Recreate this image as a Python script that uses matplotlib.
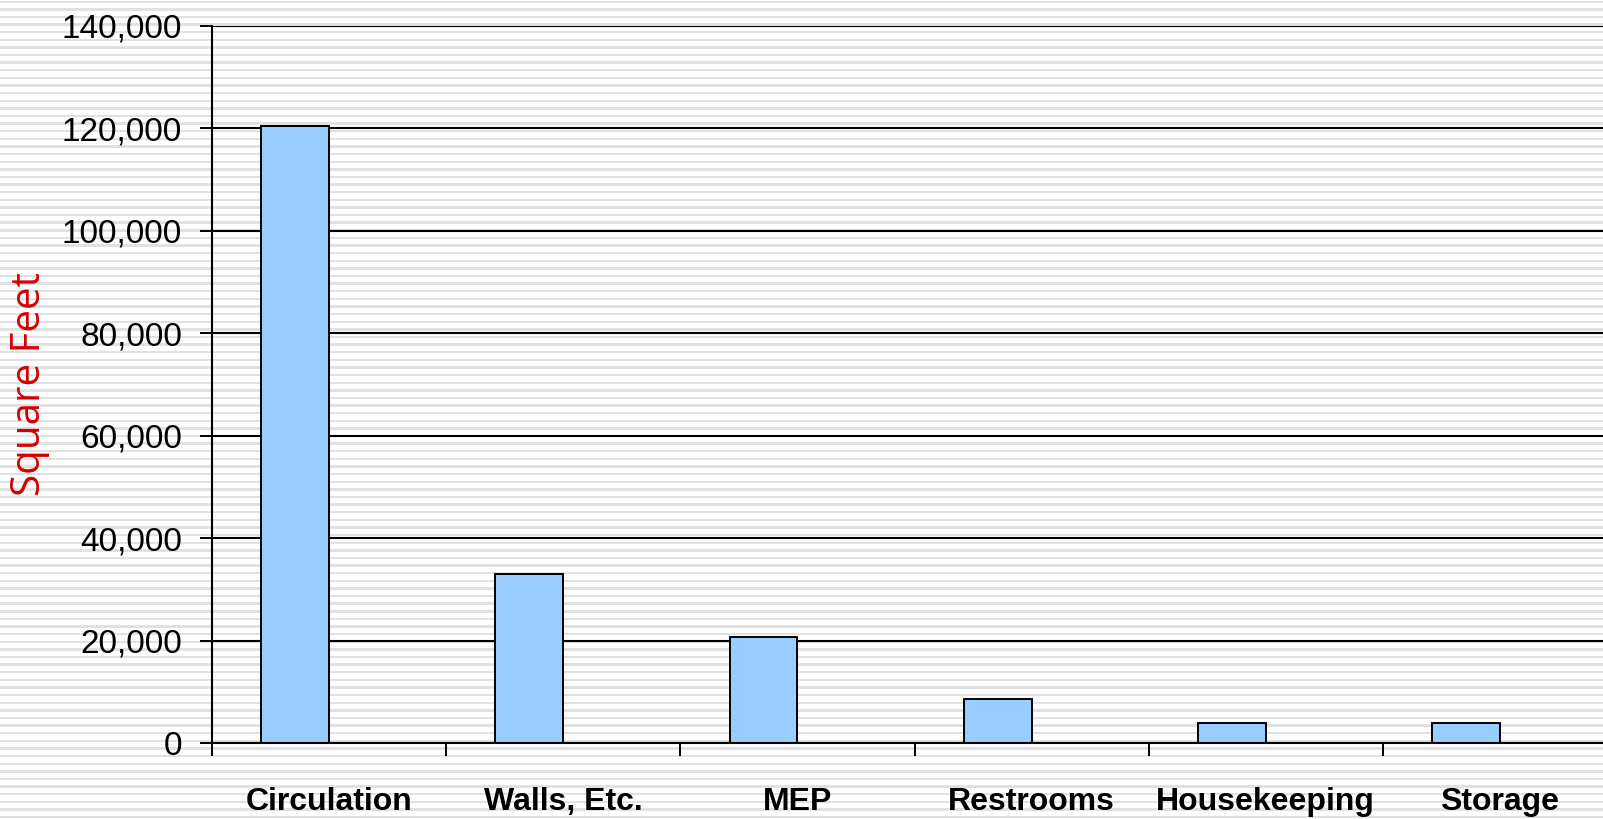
import matplotlib.pyplot as plt
import numpy as np
from matplotlib.ticker import FuncFormatter

categories = ["Circulation", "Walls, Etc.", "MEP", "Restrooms",
              "Housekeeping", "Storage"]
square_feet = [120400, 32900, 20700, 8500, 3900, 3900]
y_ticks = [0, 20000, 40000, 60000, 80000, 100000, 120000, 140000]

W, H = 1603, 819
NARROW = ["Liberation Sans Narrow", "Liberation Sans", "DejaVu Sans"]


def draw_background(fig):
    """Light grey horizontal stripes behind the whole picture"""
    bg = fig.add_axes([0, 0, 1, 1], zorder=-10)
    bg.set_xlim(0, W)
    bg.set_ylim(H, 0)
    bg.axis("off")
    for y in np.arange(0.5, H, 7.62):
        bg.axhspan(y, y + 2.4, color="#e1e1e1", lw=0)


def plot_data(fig):
    """Bar chart of support space areas"""
    left, right, top, bottom = 212, 1617, 25.7, 743
    ax = fig.add_axes([left / W, (H - bottom) / H,
                       (right - left) / W, (bottom - top) / H])
    ax.patch.set_alpha(0)

    x = np.arange(len(categories))
    ax.bar(x - 0.29, square_feet, width=0.29, align="edge",
           color="#99ccff", edgecolor="black", linewidth=1.4, zorder=3)

    ax.set_xlim(-0.5, len(categories) - 0.5)
    ax.set_ylim(0, 140000)
    ax.set_yticks(y_ticks)
    ax.yaxis.set_major_formatter(FuncFormatter(lambda v, p: f"{int(v):,}"))
    ax.grid(axis="y", color="black", linewidth=1.5, zorder=1)

    ax.set_xticks(x)
    ax.set_xticklabels(categories, family=NARROW, fontweight="bold",
                       fontsize=23)
    ax.set_xticks(np.arange(-0.5, len(categories)), minor=True)
    ax.tick_params(axis="x", which="major", length=0, pad=32)
    ax.tick_params(axis="x", which="minor", length=9.4, width=1.4,
                   color="black")
    ax.tick_params(axis="y", length=8.6, width=1.4, pad=13, labelsize=24)
    for lab in ax.get_yticklabels():
        lab.set_family(NARROW)

    for side in ["top", "right"]:
        ax.spines[side].set_visible(False)
    ax.spines["left"].set_linewidth(1.5)
    ax.spines["bottom"].set_linewidth(1.5)
    ax.spines["bottom"].set_zorder(4)

    fig.text(30 / W, (H - 383.5) / H, "Square Feet", rotation=90,
             ha="center", va="center", color="#d40000", fontsize=29,
             family=["Open Sans", "DejaVu Sans"])
    return ax


def main():
    fig = plt.figure(figsize=(W / 100, H / 100), dpi=100)
    fig.patch.set_facecolor("white")
    draw_background(fig)
    plot_data(fig)
    fig.savefig("out.png", dpi=100)


if __name__ == "__main__":
    main()
